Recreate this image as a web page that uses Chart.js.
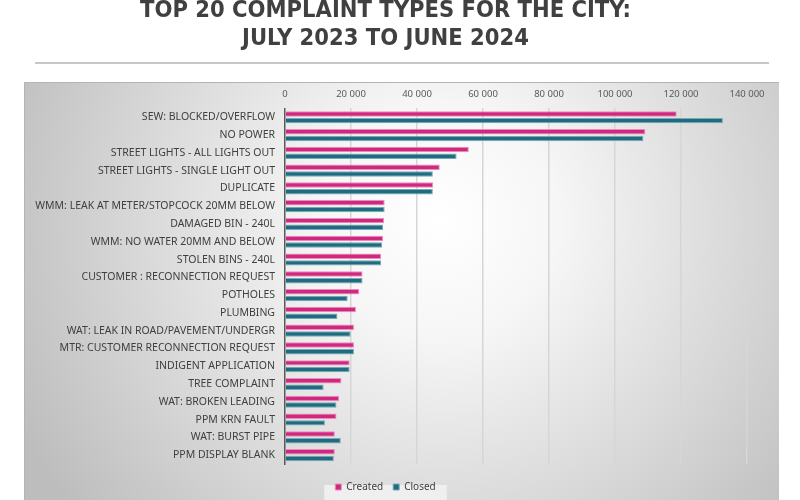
<!DOCTYPE html>
<html>
<head>
<meta charset="utf-8">
<script src="https://cdn.jsdelivr.net/npm/chart.js@4.4.1/dist/chart.umd.min.js"></script>
<style>
  html, body { margin: 0; padding: 0; background: #ffffff; }
  #wrap { width: 800px; height: 500px; }
</style>
</head>
<body>
<div id="wrap"><canvas id="chart" width="800" height="500"></canvas></div>
<script>
// complaint types, top to bottom
const categories = [
  "SEW: BLOCKED/OVERFLOW",
  "NO POWER",
  "STREET LIGHTS - ALL LIGHTS OUT",
  "STREET LIGHTS - SINGLE LIGHT OUT",
  "DUPLICATE",
  "WMM: LEAK AT METER/STOPCOCK 20MM BELOW",
  "DAMAGED BIN - 240L",
  "WMM: NO WATER 20MM AND BELOW",
  "STOLEN BINS - 240L",
  "CUSTOMER : RECONNECTION REQUEST",
  "POTHOLES",
  "PLUMBING",
  "WAT: LEAK IN ROAD/PAVEMENT/UNDERGR",
  "MTR: CUSTOMER RECONNECTION REQUEST",
  "INDIGENT APPLICATION",
  "TREE COMPLAINT",
  "WAT: BROKEN LEADING",
  "PPM KRN FAULT",
  "WAT: BURST PIPE",
  "PPM DISPLAY BLANK",
];
// values
const created = [118700, 109200, 55700, 46900, 44900, 30200, 30000, 29700, 29100, 23500,
                 22500, 21500, 20900, 20900, 19600, 17100, 16400, 15600, 15100, 15100];
const closed = [132700, 108600, 52000, 44800, 44800, 30200, 29700, 29400, 29100, 23500,
                19000, 15900, 19900, 20900, 19600, 11700, 15600, 12100, 16900, 14800];
const xTicks = [0, 20000, 40000, 60000, 80000, 100000, 120000, 140000];
const titleLines = ["TOP 20 COMPLAINT TYPES FOR THE CITY:", "JULY 2023 TO JUNE 2024"];

const textGray = "#404040";
const labelFont = "'Noto Sans', 'DejaVu Sans', sans-serif";

// panel background, rule under the title, box behind the legend
const backdrop = {
  id: "backdrop",
  afterLayout(chart) {
    // push the legend row down a little, as in the original
    const lg = chart.legend;
    if (!lg) return;
    const shift = 8;
    lg.top += shift;
    lg.bottom += shift;
    (lg.legendHitBoxes || []).forEach(b => { b.top += shift; });
  },
  beforeDraw(chart) {
    const ctx = chart.ctx;
    ctx.save();
    ctx.fillStyle = "#ffffff";
    ctx.fillRect(0, 0, chart.width, chart.height);

    ctx.fillStyle = "#c8c8c8";
    ctx.fillRect(35, 62, 734, 2);

    const g = ctx.createRadialGradient(440, 220, 0, 440, 220, 470);
    g.addColorStop(0, "#ffffff");
    g.addColorStop(0.25, "#f6f6f6");
    g.addColorStop(1, "#bdbdbd");
    ctx.fillStyle = g;
    ctx.fillRect(24, 82, 755, 418);
    ctx.strokeStyle = "#b4b4b4";
    ctx.lineWidth = 1;
    ctx.beginPath();
    ctx.moveTo(24.5, 500);
    ctx.lineTo(24.5, 82.5);
    ctx.lineTo(779, 82.5);
    ctx.stroke();

    const boxes = chart.legend && chart.legend.legendHitBoxes;
    if (boxes && boxes.length) {
      let x0 = Infinity, x1 = -Infinity, y0 = Infinity, y1 = -Infinity;
      boxes.forEach(b => {
        x0 = Math.min(x0, b.left); x1 = Math.max(x1, b.left + b.width);
        y0 = Math.min(y0, b.top); y1 = Math.max(y1, b.top + b.height);
      });
      ctx.fillStyle = "rgba(242,242,242,0.85)";
      ctx.fillRect(x0 - 11, y0 - 5, x1 - x0 + 22, y1 - y0 + 10);
    }
    ctx.restore();
  }
};

new Chart(document.getElementById("chart"), {
  type: "bar",
  plugins: [backdrop],
  data: {
    labels: categories,
    datasets: [
      {
        label: "Created",
        data: created,
        backgroundColor: "#d0287e",
        borderColor: "#e98dbd",
        borderWidth: 1,
      },
      {
        label: "Closed",
        data: closed,
        backgroundColor: "#1f6c80",
        borderColor: "#78a9b8",
        borderWidth: 1,
      },
    ],
  },
  options: {
    indexAxis: "y",
    responsive: false,
    animation: false,
    categoryPercentage: 0.75,
    barPercentage: 0.82,
    layout: { padding: { left: 24, right: 53, top: 0, bottom: 6 } },
    plugins: {
      tooltip: { enabled: false },
      title: {
        display: true,
        text: titleLines,
        color: textGray,
        font: { family: "'DejaVu Sans Condensed', 'Liberation Sans Narrow', 'DejaVu Sans', sans-serif", size: 23.5, weight: "bold", lineHeight: 1.2 },
        padding: { top: -3, bottom: 0 },
      },
      legend: {
        position: "bottom",
        labels: {
          boxWidth: 6,
          boxHeight: 6,
          padding: 10,
          color: textGray,
          font: { family: labelFont, size: 10 },
        },
      },
    },
    scales: {
      x: {
        position: "top",
        min: 0,
        max: 140000,
        afterBuildTicks: (scale) => { scale.ticks = xTicks.map(v => ({ value: v })); },
        afterFit: (scale) => { scale.height = 55; },
        border: { display: false },
        grid: {
          drawTicks: false,
          color: (c) => (c.index === 0 ? "rgba(0,0,0,0)" : "#d6d6d6"),
          lineWidth: 1.5,
        },
        ticks: {
          padding: 8,
          color: "#595959",
          font: { family: labelFont, size: 9.5 },
          callback: (v) => String(v).replace(/\B(?=(\d{3})+(?!\d))/g, " "),
        },
      },
      y: {
        afterFit: (scale) => { scale.width = 261; },
        border: { display: true, color: "#595959", width: 1.5 },
        grid: { display: false, drawTicks: false },
        ticks: {
          padding: 10,
          color: textGray,
          autoSkip: false,
          font: { family: labelFont, size: 10.5 },
        },
      },
    },
  },
});
</script>
</body>
</html>
